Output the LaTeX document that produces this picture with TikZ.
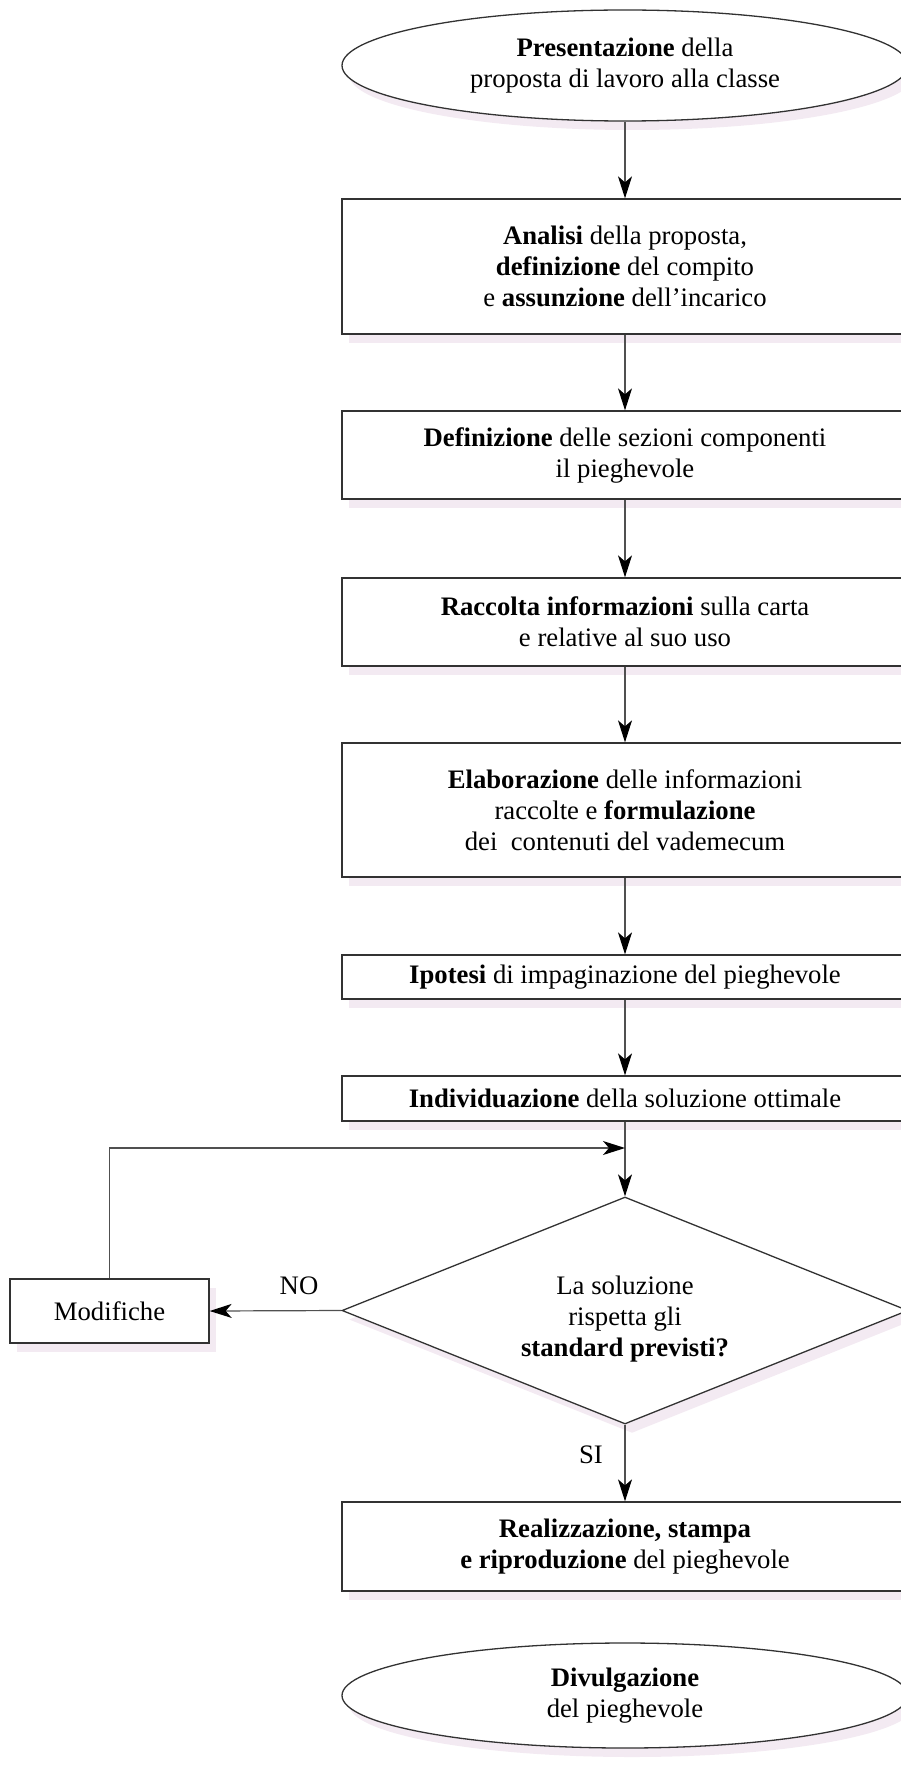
\documentclass[tikz,border=0pt]{standalone}
\usepackage{fontspec}
\setmainfont{Liberation Serif}
\usetikzlibrary{shapes.geometric,arrows.meta,shadows}
\definecolor{shadowpink}{RGB}{243,234,242}
\definecolor{inkgray}{RGB}{50,50,50}
\definecolor{wiregray}{RGB}{80,80,80}
\begin{document}
\begin{tikzpicture}[x=1pt,y=-1pt,
  every node/.style={font=\fontsize{26.7}{31}\selectfont, align=center, inner sep=0pt},
  pinkshadow/.style={drop shadow={shadow xshift=7pt,shadow yshift=-9pt,fill=shadowpink,opacity=1}},
  stepbox/.style={draw=inkgray, line width=1.3pt, fill=white, minimum width=566pt, pinkshadow},
  endpoint/.style={ellipse, draw=inkgray, line width=1.3pt, fill=white, minimum width=566pt, pinkshadow},
  decision/.style={diamond, draw=inkgray, line width=1.3pt, fill=white, minimum width=566pt, minimum height=227pt, shape aspect=2.49, pinkshadow},
  arr/.style={draw=wiregray, line width=1.2pt, -{Stealth[length=22pt,width=14pt,inset=6pt,color=black,fill=black]}}]
\useasboundingbox (0,0) rectangle (901,1779);
\clip (0,0) rectangle (901,1779);

% flow steps
\node[endpoint, minimum height=111pt] (start) at (625,65.5)
  {\textbf{Presentazione} della\\proposta di lavoro alla classe};
\node[stepbox, minimum height=135pt] (analisi) at (625,266.5)
  {\textbf{Analisi} della proposta,\\\textbf{definizione} del compito\\e \textbf{assunzione} dell’incarico};
\node[stepbox, minimum height=88pt] (sezioni) at (625,455)
  {\textbf{Definizione} delle sezioni componenti\\il pieghevole};
\node[stepbox, minimum height=88pt] (raccolta) at (625,622)
  {\textbf{Raccolta informazioni} sulla carta\\e relative al suo uso};
\node[stepbox, minimum height=134pt] (elabora) at (625,810)
  {\textbf{Elaborazione} delle informazioni\\raccolte e \textbf{formulazione}\\dei\hspace{0.5em}contenuti del vademecum};
\node[stepbox, minimum height=44pt] (ipotesi) at (625,977)
  {\textbf{Ipotesi} di impaginazione del pieghevole};
\node[stepbox, minimum height=45pt] (ottimale) at (625,1098.5)
  {\textbf{Individuazione} della soluzione ottimale};
% question text sits a little below the diamond's centre
\node[decision] (check) at (625,1310.5)
  {\raisebox{-9pt}[\height][\depth]{\begin{tabular}{@{}c@{}}La soluzione\\rispetta gli\\\textbf{standard previsti?}\end{tabular}}};
\node[draw=inkgray, line width=1.3pt, fill=white, minimum width=199pt, minimum height=64pt, pinkshadow] (modifiche) at (109.5,1311)
  {Modifiche};
\node[stepbox, minimum height=89pt] (stampa) at (625,1546.5)
  {\textbf{Realizzazione, stampa}\\\textbf{e riproduzione} del pieghevole};
\node[endpoint, minimum height=105pt] (fine) at (625,1695.5)
  {\textbf{Divulgazione}\\del pieghevole};

% connectors
\draw[arr] (start.south) -- (analisi.north);
\draw[arr] (analisi.south) -- (sezioni.north);
\draw[arr] (sezioni.south) -- (raccolta.north);
\draw[arr] (raccolta.south) -- (elabora.north);
\draw[arr] (elabora.south) -- (ipotesi.north);
\draw[arr] (ipotesi.south) -- (ottimale.north);
\draw[arr] (ottimale.south) -- (check.north);
\draw[arr] (check.west) -- (modifiche.east);
\coordinate (rejoin) at (625,1148);
\draw[arr] (modifiche.north) |- (rejoin);
\draw[arr] (check.south) -- (stampa.north);

% branch labels
\node (no) at (299,1286) {NO};
\node (si) at (591,1455) {SI};
\end{tikzpicture}
\end{document}
